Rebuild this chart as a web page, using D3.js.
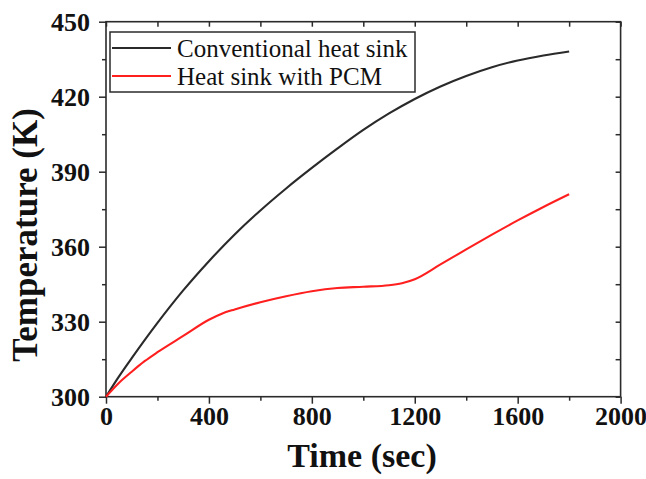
<!DOCTYPE html>
<html>
<head>
<meta charset="utf-8">
<script src="https://cdn.jsdelivr.net/npm/d3@7"></script>
<style>
  body { margin: 0; background: #fff; }
  svg text { font-family: "Liberation Serif", "Times New Roman", serif; fill: #111; }
</style>
</head>
<body>
<div id="container"></div>
<script>
// values
const timeConv = [0, 50, 100, 200, 300, 400, 500, 600, 700, 800, 900, 1000, 1100, 1200, 1300, 1400, 1500, 1600, 1700, 1800]
const tempConv = [300, 308, 315.4, 329.5, 342.5, 354.2, 364.9, 374.5, 383.3, 391.5, 399.3, 406.7, 413.3, 419.1, 424.1, 428.3, 431.8, 434.5, 436.5, 438.1]
const timePcm = [0, 50, 100, 150, 200, 300, 400, 450, 500, 600, 700, 800, 900, 1000, 1100, 1150, 1200, 1300, 1400, 1500, 1600, 1700, 1800]
const tempPcm = [300, 305.5, 310, 314.2, 317.8, 324.3, 330.8, 333.2, 334.9, 337.8, 340.2, 342.2, 343.5, 344, 344.6, 345.4, 347, 352.9, 358.9, 364.8, 370.5, 375.9, 381]
const seriesNames = ["Conventional heat sink", "Heat sink with PCM"]
const seriesColors = ["#2a2a2a", "#ff1f1f"]
const xMajor = [0, 400, 800, 1200, 1600, 2000]
const xMinor = [200, 600, 1000, 1400, 1800]
const yMajor = [300, 330, 360, 390, 420, 450]
const yMinor = [315, 345, 375, 405, 435]

const width = 646, height = 479
const margin = {left: 106, right: 25.4, top: 21.7, bottom: 82.3}

const svg = d3.select('#container').append('svg')
    .attr('width', width)
    .attr('height', height)

const x = d3.scaleLinear().domain([0, 2000]).range([margin.left, width - margin.right])
const y = d3.scaleLinear().domain([300, 450]).range([height - margin.bottom, margin.top])

const axisColor = '#2b2b2b'

function styleAxis(g) {
    g.select('.domain').remove()
    g.selectAll('line').attr('stroke', axisColor).attr('stroke-width', 1.5)
    g.selectAll('text')
        .attr('font-size', 26)
        .attr('font-weight', 'bold')
        .attr('fill', '#111')
}

// bottom / left, ticks outward
svg.append('g')
    .attr('transform', `translate(0,${y(300)})`)
    .call(d3.axisBottom(x).tickValues(xMajor).tickSize(7).tickPadding(3).tickFormat(d3.format('d')))
    .call(styleAxis)
svg.append('g')
    .attr('transform', `translate(0,${y(300)})`)
    .call(d3.axisBottom(x).tickValues(xMinor).tickSize(4).tickFormat(''))
    .call(styleAxis)
svg.append('g')
    .attr('transform', `translate(${x(0)},0)`)
    .call(d3.axisLeft(y).tickValues(yMajor).tickSize(7).tickPadding(9).tickFormat(d3.format('d')))
    .call(styleAxis)
svg.append('g')
    .attr('transform', `translate(${x(0)},0)`)
    .call(d3.axisLeft(y).tickValues(yMinor).tickSize(4).tickFormat(''))
    .call(styleAxis)

// top / right mirror, ticks inward
svg.append('g')
    .attr('transform', `translate(0,${y(450)})`)
    .call(d3.axisBottom(x).tickValues(xMajor.concat(xMinor)).tickSize(5).tickFormat(''))
    .call(styleAxis)
svg.append('g')
    .attr('transform', `translate(${x(2000)},0)`)
    .call(d3.axisLeft(y).tickValues(yMajor.concat(yMinor)).tickSize(5).tickFormat(''))
    .call(styleAxis)

// frame
svg.append('rect')
    .attr('x', x(0))
    .attr('y', y(450))
    .attr('width', x(2000) - x(0))
    .attr('height', y(300) - y(450))
    .attr('fill', 'none')
    .attr('stroke', axisColor)
    .attr('stroke-width', 1.6)

const line = d3.line()
    .x(d => x(d[0]))
    .y(d => y(d[1]))
    .curve(d3.curveMonotoneX)

const series = [
    d3.zip(timeConv, tempConv),
    d3.zip(timePcm, tempPcm)
]

svg.append('g')
    .attr('fill', 'none')
    .selectAll('path')
    .data(series)
    .join('path')
    .attr('stroke', (d, i) => seriesColors[i])
    .attr('stroke-width', 2.1)
    .attr('stroke-linejoin', 'round')
    .attr('d', line)

// axis titles
svg.append('text')
    .attr('x', 362)
    .attr('y', 467)
    .attr('text-anchor', 'middle')
    .attr('font-size', 34)
    .attr('font-weight', 'bold')
    .text('Time (sec)')

svg.append('text')
    .attr('transform', 'translate(37,235) rotate(-90)')
    .attr('text-anchor', 'middle')
    .attr('font-size', 35)
    .attr('font-weight', 'bold')
    .text('Temperature (K)')

// legend
const legend = svg.append('g')
legend.append('rect')
    .attr('x', 110)
    .attr('y', 32)
    .attr('width', 305)
    .attr('height', 60)
    .attr('fill', '#fff')
    .attr('stroke', axisColor)
    .attr('stroke-width', 1.5)

const item = legend.selectAll('g')
    .data(seriesNames)
    .join('g')
    .attr('transform', (d, i) => `translate(0,${48 + i * 28})`)

item.append('line')
    .attr('x1', 112)
    .attr('x2', 171)
    .attr('stroke', (d, i) => seriesColors[i])
    .attr('stroke-width', 2.1)

item.append('text')
    .attr('x', 177)
    .attr('y', 9)
    .attr('font-size', 25)
    .text(d => d)
</script>
</body>
</html>
